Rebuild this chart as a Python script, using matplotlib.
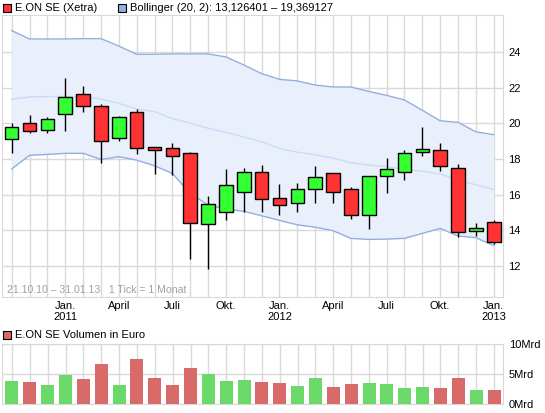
import matplotlib
matplotlib.use("Agg")
import matplotlib.pyplot as plt
from matplotlib.patches import Rectangle

plt.rcParams['font.family'] = ['Liberation Sans', 'DejaVu Sans']
plt.rcParams['font.size'] = 8

# monthly candles, Oct 2010 .. Jan 2013
months = list(range(1, 29))
opens = [19.11, 20.00, 19.61, 20.51, 21.64, 20.96, 19.16, 20.63, 18.67, 18.60,
         18.32, 14.34, 15.02, 16.13, 17.29, 15.79, 15.51, 16.29, 17.19, 16.29,
         14.83, 17.03, 17.29, 18.38, 18.49, 17.48, 13.93, 14.44]
closes = [19.82, 19.56, 20.23, 21.47, 20.96, 18.99, 20.34, 18.60, 18.49, 18.15,
          14.40, 15.45, 16.54, 17.29, 15.73, 15.39, 16.29, 16.97, 16.13, 14.83,
          17.03, 17.42, 18.32, 18.54, 17.59, 13.88, 14.10, 13.35]
highs = [20.00, 20.46, 20.34, 22.54, 22.10, 21.08, 20.40, 20.81, 18.70, 18.90,
         18.37, 15.92, 17.44, 17.49, 17.66, 16.59, 16.65, 17.60, 17.20, 16.41,
         17.03, 18.06, 18.49, 19.80, 18.90, 17.72, 14.38, 14.55]
lows = [18.35, 19.44, 19.48, 19.59, 20.63, 17.79, 18.99, 18.30, 17.17, 17.12,
        12.39, 11.79, 14.59, 15.00, 15.03, 14.83, 15.03, 15.54, 15.54, 14.64,
        14.08, 16.10, 16.84, 18.18, 17.34, 13.63, 13.68, 13.24]

# bollinger (20, 2)
boll_upper = [25.22, 24.75, 24.75, 24.75, 24.77, 24.77, 24.35, 23.89, 23.89, 23.91,
              23.91, 23.91, 23.74, 23.29, 22.80, 22.48, 22.39, 22.16, 22.05, 22.05,
              21.80, 21.58, 21.32, 20.74, 20.15, 20.06, 19.53, 19.37]
boll_mid = [21.36, 21.49, 21.51, 21.52, 21.51, 21.37, 21.13, 20.81, 20.66, 20.27,
            20.02, 19.73, 19.50, 19.24, 18.97, 18.60, 18.38, 18.24, 18.06, 17.79,
            17.66, 17.57, 17.42, 17.31, 17.16, 16.82, 16.55, 16.29]
boll_lower = [17.44, 18.21, 18.26, 18.32, 18.32, 17.98, 18.13, 17.94, 17.62, 17.19,
              16.07, 15.41, 15.19, 15.06, 14.81, 14.55, 14.30, 14.17, 13.97, 13.54,
              13.48, 13.50, 13.54, 13.82, 14.10, 13.67, 13.58, 13.13]

# volume in Mrd Euro
volume = [3.85, 3.69, 3.18, 4.86, 4.19, 6.70, 3.18, 7.54, 4.36, 3.18,
          6.03, 5.03, 3.85, 4.02, 3.69, 3.52, 3.02, 4.36, 2.85, 3.35,
          3.52, 3.35, 2.68, 2.85, 2.68, 4.36, 2.35, 2.35]

tick_pos = [4, 7, 10, 13, 16, 19, 22, 25, 28]
tick_labels = ['Jan.\n2011', 'April', 'Juli', 'Okt.', 'Jan.\n2012',
               'April', 'Juli', 'Okt.', 'Jan.\n2013']
price_ticks = [12, 14, 16, 18, 20, 22, 24]
vol_ticks = [0, 5, 10]
vol_labels = ['0Mrd', '5Mrd', '10Mrd']

GRID = '#d9d9d9'
XLIM = (0.457, 28.52)

fig = plt.figure(figsize=(5.45, 4.13), dpi=100)

# ---------------- price panel ----------------
ax = fig.add_axes([0.00367, 0.2816, 0.9193, 0.6809])
ax.set_xlim(*XLIM)
ax.set_ylim(10.26, 26.07)

ax.fill_between(months, boll_lower, boll_upper, color='#e9f0fb', lw=0, zorder=1)
ax.plot(months, boll_upper, color='#95aee0', lw=1, zorder=2)
ax.plot(months, boll_lower, color='#95aee0', lw=1, zorder=2)
ax.plot(months, boll_mid, color='#c9dbf7', lw=1, zorder=2)

for m, o, c, h, l in zip(months, opens, closes, highs, lows):
    col = '#33ff33' if c >= o else '#ff3333'
    ax.vlines(m, l, h, color='black', lw=1, zorder=3)
    ax.bar(m, abs(c - o), bottom=min(o, c), width=0.76, color=col,
           edgecolor='black', linewidth=1, zorder=4)

ax.set_xticks(months, minor=True)
ax.set_xticks(tick_pos)
ax.set_xticklabels(tick_labels)
ax.set_yticks(price_ticks)
ax.yaxis.tick_right()
ax.tick_params(axis='both', which='both', length=0)
ax.tick_params(axis='y', pad=4)
ax.tick_params(axis='x', pad=3)
ax.grid(True, which='both', color=GRID, lw=1, zorder=0)
ax.set_axisbelow(True)
for s in ax.spines.values():
    s.set_color(GRID)

fig.text(7 / 545, 1 - 290 / 413, '21.10.10 \u2013 31.01.13   1 Tick = 1 Monat',
         color='#a0a0a0', va='center', ha='left', fontsize=7.6)

# ---------------- volume panel ----------------
vax = fig.add_axes([0.0042, 0.0218, 0.9193, 0.1446])
vax.set_xlim(*XLIM)
vax.set_ylim(0, 10)
vcols = ['#6ad96a' if c >= o else '#d96a6a' for o, c in zip(opens, closes)]
vax.bar(months, volume, width=0.73, color=vcols, zorder=3)
vax.set_xticks(months)
vax.set_xticklabels([])
vax.set_yticks(vol_ticks)
vax.set_yticklabels(vol_labels)
vax.yaxis.tick_right()
vax.tick_params(axis='both', length=0)
vax.tick_params(axis='y', pad=4)
vax.grid(True, color=GRID, lw=1, zorder=0)
vax.set_axisbelow(True)
for s in vax.spines.values():
    s.set_color(GRID)

# ---------------- legends ----------------
def legend_box(x, y, color, label):
    fig.add_artist(Rectangle((x / 545, 1 - (y + 4) / 413), 8 / 545, 8 / 413,
                             facecolor=color, edgecolor='black', lw=0.8,
                             transform=fig.transFigure))
    fig.text((x + 12) / 545, 1 - y / 413, label, va='center', ha='left', fontsize=8)

legend_box(3, 8, '#ff3333', 'E.ON SE (Xetra)')
legend_box(118, 8, '#95aee0', 'Bollinger (20, 2): 13,126401 \u2013 19,369127')
legend_box(3, 335, '#d96a6a', 'E.ON SE Volumen in Euro')

fig.savefig('out.png', dpi=100)
